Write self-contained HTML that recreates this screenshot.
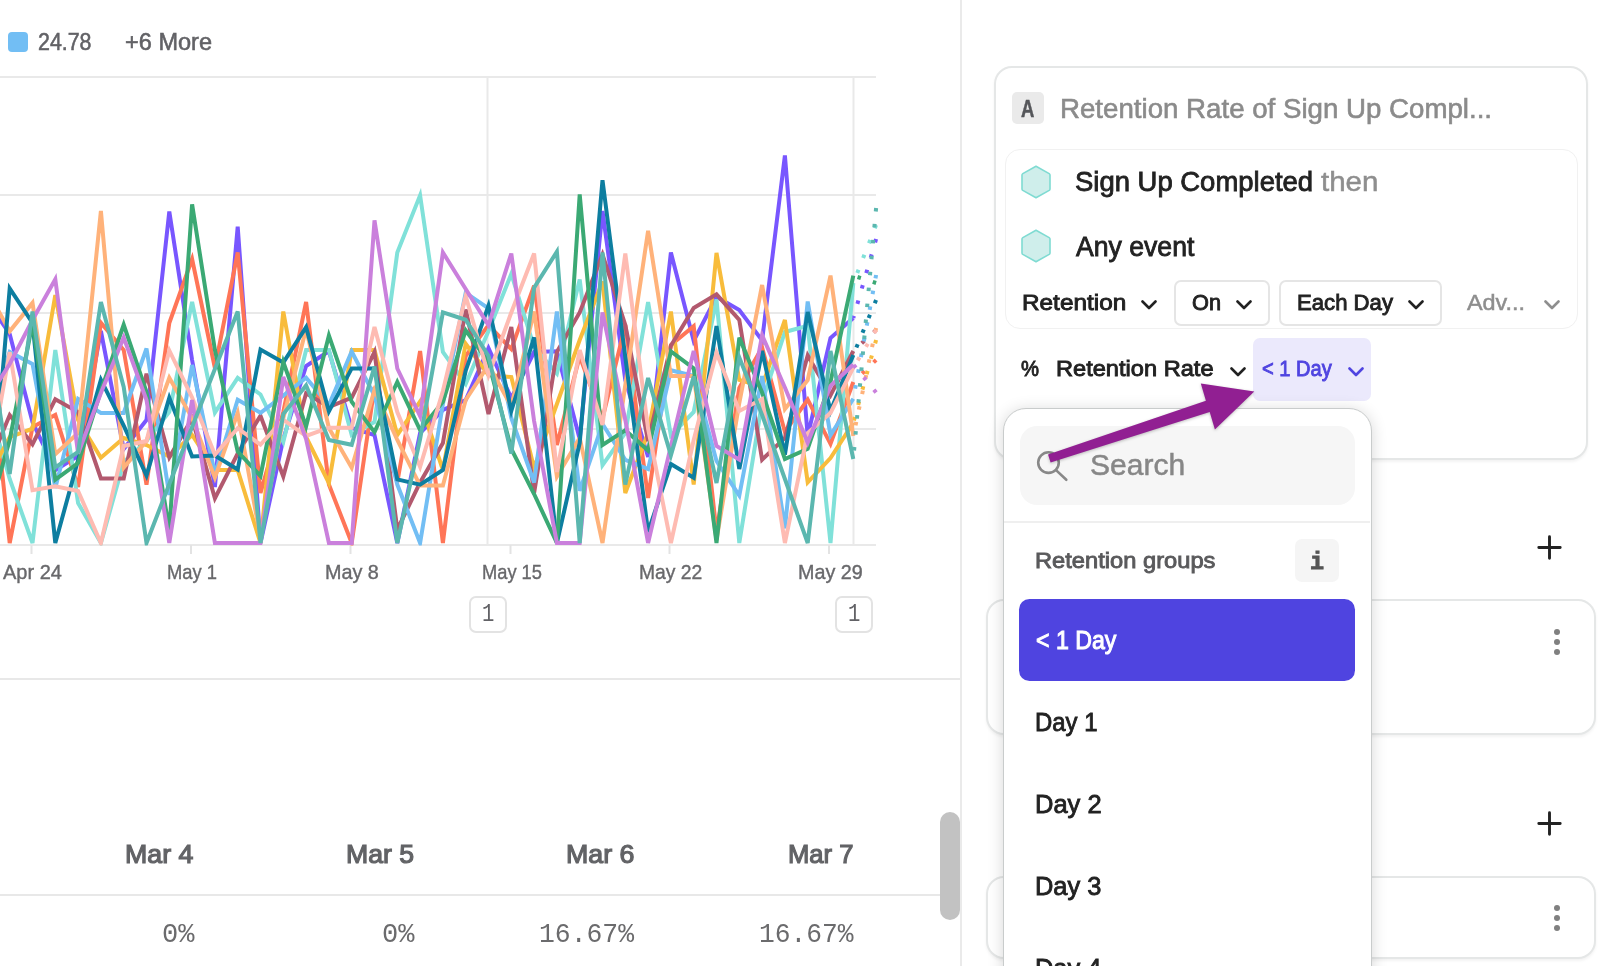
<!DOCTYPE html>
<html lang="en"><head><meta charset="utf-8"><title>Retention</title>
<style>
*{box-sizing:border-box;margin:0;padding:0}
html,body{width:1616px;height:966px;overflow:hidden;background:#fff}
body{position:relative;font-family:"Liberation Sans",Arial,sans-serif;color:#222;-webkit-font-smoothing:antialiased}
.abs{position:absolute;white-space:nowrap}
.t{position:absolute;white-space:nowrap;line-height:1;transform-origin:0 50%;opacity:.999}
.m{-webkit-text-stroke:0.35px currentColor}
.chart{position:absolute;left:0;top:0}
.mono{font-family:"Liberation Mono","DejaVu Sans Mono",monospace}
.chev{position:absolute}
.hex{position:absolute}
.card{position:absolute;background:#fff;border:2px solid #e5e7e7;border-radius:18px;box-shadow:0 2px 3px rgba(0,0,0,.05)}
</style></head><body>

<!-- legend -->
<div class="abs" style="left:8px;top:32px;width:20px;height:20px;border-radius:4px;background:#72bef4"></div>

<svg class="chart" width="960" height="640" viewBox="0 0 960 640">
<rect x="0" y="76" width="876" height="2" fill="#e9e9e9"/>
<rect x="0" y="194" width="876" height="2" fill="#e9e9e9"/>
<rect x="0" y="312" width="876" height="2" fill="#e9e9e9"/>
<rect x="0" y="428" width="876" height="2" fill="#e9e9e9"/>
<rect x="0" y="544" width="876" height="2" fill="#e9e9e9"/>
<rect x="486.5" y="77" width="2" height="468" fill="#e9e9e9"/>
<rect x="852.5" y="77" width="2" height="468" fill="#e9e9e9"/>
<rect x="30.5" y="545" width="2" height="9" fill="#e3e3e3"/>
<rect x="190" y="545" width="2" height="9" fill="#e3e3e3"/>
<rect x="349.5" y="545" width="2" height="9" fill="#e3e3e3"/>
<rect x="509.5" y="545" width="2" height="9" fill="#e3e3e3"/>
<rect x="668.5" y="545" width="2" height="9" fill="#e3e3e3"/>
<rect x="828" y="545" width="2" height="9" fill="#e3e3e3"/>
<g fill="none" stroke-width="4" stroke-linejoin="miter" stroke-miterlimit="4" clip-path="url(#cp)">
<clipPath id="cp"><rect x="0" y="70" width="880" height="475.5"/></clipPath>
<polyline stroke="#7856ff" points="-13.1,300.0 9.7,334.0 32.5,422.0 55.3,470.2 78.1,456.0 100.9,331.0 123.7,449.1 146.5,420.0 169.3,211.5 192.1,360.0 214.9,487.0 237.7,226.6 260.5,543.0 283.3,439.0 306.1,366.0 328.9,351.2 351.7,428.0 374.5,435.0 397.3,543.0 420.1,433.0 442.9,410.0 465.7,400.0 488.5,348.1 511.3,398.2 534.1,352.0 556.9,351.3 579.7,439.0 602.5,211.0 625.3,380.0 648.1,457.0 670.9,252.5 693.7,340.9 716.5,296.8 739.3,310.0 762.1,340.4 784.9,155.5 807.7,436.0 830.5,338.0 853.3,318.0"/>
<line stroke="#7856ff" x1="876.1" y1="239.0" x2="853.3" y2="318.0" stroke-dasharray="3.5 12.5"/>
<polyline stroke="#ff7557" points="-13.1,330.0 9.7,543.0 32.5,427.0 55.3,415.0 78.1,487.0 100.9,322.8 123.7,350.0 146.5,484.6 169.3,323.0 192.1,259.0 214.9,368.0 237.7,252.5 260.5,493.0 283.3,412.0 306.1,302.0 328.9,484.6 351.7,543.0 374.5,387.0 397.3,482.5 420.1,351.0 442.9,543.0 465.7,356.0 488.5,325.1 511.3,349.1 534.1,285.6 556.9,445.0 579.7,356.3 602.5,418.5 625.3,325.0 648.1,498.0 670.9,345.0 693.7,326.2 716.5,532.0 739.3,388.0 762.1,347.5 784.9,431.9 807.7,399.7 830.5,443.8 853.3,382.0"/>
<line stroke="#ff7557" x1="876.1" y1="360.0" x2="853.3" y2="382.0" stroke-dasharray="3.5 12.5"/>
<polyline stroke="#80e1d9" points="-13.1,400.0 9.7,479.0 32.5,543.0 55.3,350.0 78.1,503.0 100.9,543.0 123.7,462.0 146.5,441.0 169.3,412.0 192.1,302.0 214.9,412.5 237.7,377.8 260.5,394.5 283.3,441.9 306.1,350.0 328.9,350.0 351.7,434.9 374.5,422.0 397.3,252.5 420.1,195.3 442.9,352.0 465.7,384.0 488.5,331.0 511.3,273.9 534.1,347.0 556.9,373.6 579.7,279.4 602.5,465.2 625.3,433.0 648.1,302.0 670.9,435.5 693.7,412.0 716.5,299.5 739.3,543.0 762.1,402.0 784.9,332.0 807.7,325.9 830.5,543.0 853.3,283.0"/>
<line stroke="#80e1d9" x1="876.1" y1="225.0" x2="853.3" y2="283.0" stroke-dasharray="3.5 12.5"/>
<polyline stroke="#f8bc3b" points="-13.1,480.0 9.7,437.0 32.5,428.7 55.3,295.0 78.1,420.0 100.9,457.7 123.7,438.1 146.5,445.0 169.3,456.5 192.1,435.0 214.9,470.0 237.7,470.0 260.5,543.0 283.3,311.5 306.1,437.0 328.9,483.0 351.7,350.0 374.5,350.0 397.3,434.9 420.1,401.4 442.9,470.0 465.7,343.7 488.5,375.0 511.3,377.0 534.1,467.9 556.9,404.0 579.7,340.0 602.5,281.5 625.3,493.0 648.1,433.0 670.9,311.5 693.7,484.6 716.5,252.9 739.3,380.0 762.1,386.5 784.9,320.0 807.7,482.3 830.5,458.0 853.3,422.8"/>
<line stroke="#f8bc3b" x1="876.1" y1="340.0" x2="853.3" y2="422.8" stroke-dasharray="3.5 12.5"/>
<polyline stroke="#b2596e" points="-13.1,470.0 9.7,415.1 32.5,444.2 55.3,399.3 78.1,412.0 100.9,478.4 123.7,478.4 146.5,373.7 169.3,457.3 192.1,418.6 214.9,498.3 237.7,453.5 260.5,415.7 283.3,476.5 306.1,393.3 328.9,407.0 351.7,397.6 374.5,352.0 397.3,529.6 420.1,482.5 442.9,443.0 465.7,309.5 488.5,414.0 511.3,327.0 534.1,493.0 556.9,352.0 579.7,312.5 602.5,254.5 625.3,325.0 648.1,441.0 670.9,345.7 693.7,308.0 716.5,294.4 739.3,320.0 762.1,459.7 784.9,438.0 807.7,355.5 830.5,395.4 853.3,351.0"/>
<line stroke="#b2596e" x1="876.1" y1="330.0" x2="853.3" y2="351.0" stroke-dasharray="3.5 12.5"/>
<polyline stroke="#72bef4" points="-13.1,420.0 9.7,351.9 32.5,364.0 55.3,488.0 78.1,398.9 100.9,413.0 123.7,413.0 146.5,348.5 169.3,495.0 192.1,365.0 214.9,474.0 237.7,399.7 260.5,412.8 283.3,395.6 306.1,377.7 328.9,405.1 351.7,351.5 374.5,395.6 397.3,484.6 420.1,543.0 442.9,404.0 465.7,292.8 488.5,308.4 511.3,418.0 534.1,482.5 556.9,311.5 579.7,490.8 602.5,424.0 625.3,459.8 648.1,469.1 670.9,370.3 693.7,376.0 716.5,461.0 739.3,495.6 762.1,376.0 784.9,528.4 807.7,301.5 830.5,435.2 853.3,398.7"/>
<line stroke="#72bef4" x1="876.1" y1="275.0" x2="853.3" y2="398.7" stroke-dasharray="3.5 12.5"/>
<polyline stroke="#ffb27a" points="-13.1,290.0 9.7,331.3 32.5,302.9 55.3,454.3 78.1,433.0 100.9,211.0 123.7,467.6 146.5,441.0 169.3,377.8 192.1,418.0 214.9,477.6 237.7,413.0 260.5,538.0 283.3,418.0 306.1,329.0 328.9,428.0 351.7,467.7 374.5,390.0 397.3,440.0 420.1,485.6 442.9,485.6 465.7,400.0 488.5,365.0 511.3,406.1 534.1,311.5 556.9,476.6 579.7,437.9 602.5,543.0 625.3,385.0 648.1,230.7 670.9,376.0 693.7,376.0 716.5,540.0 739.3,403.0 762.1,285.0 784.9,409.0 807.7,380.0 830.5,275.6 853.3,436.0"/>
<line stroke="#ffb27a" x1="876.1" y1="328.0" x2="853.3" y2="436.0" stroke-dasharray="3.5 12.5"/>
<polyline stroke="#0d7ea0" points="-13.1,560.0 9.7,288.5 32.5,323.0 55.3,543.0 78.1,460.0 100.9,379.7 123.7,425.6 146.5,475.5 169.3,397.6 192.1,456.4 214.9,455.5 237.7,469.5 260.5,349.5 283.3,362.5 306.1,327.2 328.9,411.4 351.7,368.4 374.5,368.4 397.3,479.4 420.1,484.7 442.9,470.0 465.7,370.7 488.5,305.5 511.3,411.0 534.1,337.4 556.9,543.0 579.7,443.0 602.5,180.2 625.3,357.0 648.1,532.0 670.9,464.0 693.7,477.7 716.5,326.0 739.3,469.0 762.1,351.0 784.9,454.6 807.7,312.0 830.5,411.1 853.3,355.0"/>
<line stroke="#0d7ea0" x1="876.1" y1="300.0" x2="853.3" y2="355.0" stroke-dasharray="3.5 12.5"/>
<polyline stroke="#3ba974" points="-13.1,520.0 9.7,440.0 32.5,323.0 55.3,479.6 78.1,463.0 100.9,391.0 123.7,324.8 146.5,392.0 169.3,530.0 192.1,204.4 214.9,350.0 237.7,451.5 260.5,476.0 283.3,362.0 306.1,426.4 328.9,335.5 351.7,401.8 374.5,432.1 397.3,382.0 420.1,430.0 442.9,401.8 465.7,330.4 488.5,362.0 511.3,449.0 534.1,494.0 556.9,543.0 579.7,194.5 602.5,445.0 625.3,430.2 648.1,450.5 670.9,351.4 693.7,368.4 716.5,543.0 739.3,337.6 762.1,392.5 784.9,459.0 807.7,448.7 830.5,382.0 853.3,275.6"/>
<line stroke="#3ba974" x1="876.1" y1="283.0" x2="853.3" y2="275.6" stroke-dasharray="3.5 12.5"/>
<polyline stroke="#febbb2" points="-13.1,480.0 9.7,352.0 32.5,490.3 55.3,486.4 78.1,491.0 100.9,543.0 123.7,446.0 146.5,441.0 169.3,350.5 192.1,397.6 214.9,454.8 237.7,428.2 260.5,444.7 283.3,419.6 306.1,436.0 328.9,427.7 351.7,427.7 374.5,327.0 397.3,412.0 420.1,466.9 442.9,391.0 465.7,296.0 488.5,375.3 511.3,312.5 534.1,253.5 556.9,472.0 579.7,350.0 602.5,425.0 625.3,253.5 648.1,428.7 670.9,543.0 693.7,440.0 716.5,352.8 739.3,411.0 762.1,399.1 784.9,543.0 807.7,433.0 830.5,413.0 853.3,367.6"/>
<line stroke="#febbb2" x1="876.1" y1="330.0" x2="853.3" y2="367.6" stroke-dasharray="3.5 12.5"/>
<polyline stroke="#ca80dc" points="-13.1,400.0 9.7,364.0 32.5,320.0 55.3,279.2 78.1,453.5 100.9,393.0 123.7,337.6 146.5,400.0 169.3,543.0 192.1,400.0 214.9,543.0 237.7,543.0 260.5,543.0 283.3,377.0 306.1,439.0 328.9,543.0 351.7,543.0 374.5,220.4 397.3,368.5 420.1,416.1 442.9,252.5 465.7,289.0 488.5,325.2 511.3,253.5 534.1,421.0 556.9,543.0 579.7,543.0 602.5,312.5 625.3,420.0 648.1,543.0 670.9,446.0 693.7,351.0 716.5,446.0 739.3,459.6 762.1,335.2 784.9,387.5 807.7,442.6 830.5,386.0 853.3,364.5"/>
<line stroke="#ca80dc" x1="876.1" y1="392.5" x2="853.3" y2="364.5" stroke-dasharray="3.5 12.5"/>
<polyline stroke="#5bb7af" points="-13.1,330.0 9.7,474.0 32.5,311.5 55.3,467.3 78.1,452.0 100.9,302.0 123.7,387.0 146.5,543.0 169.3,484.0 192.1,427.0 214.9,369.0 237.7,311.5 260.5,543.0 283.3,414.0 306.1,385.4 328.9,440.0 351.7,444.8 374.5,366.5 397.3,543.0 420.1,439.0 442.9,312.4 465.7,319.8 488.5,356.0 511.3,453.5 534.1,287.7 556.9,251.7 579.7,543.0 602.5,252.5 625.3,484.6 648.1,378.0 670.9,455.4 693.7,376.5 716.5,483.0 739.3,357.6 762.1,415.0 784.9,479.0 807.7,543.0 830.5,351.0 853.3,459.0"/>
<line stroke="#5bb7af" x1="876.1" y1="208.0" x2="853.3" y2="459.0" stroke-dasharray="3.5 12.5"/>
</g></svg>

<!-- axis labels -->

<!-- annotations -->
<div class="abs" style="left:469px;top:596px;width:38px;height:37px;border:2px solid #e3e3e3;border-radius:7px"></div>
<div class="abs" style="left:835px;top:596px;width:38px;height:37px;border:2px solid #e3e3e3;border-radius:7px"></div>

<!-- separators -->
<div class="abs" style="left:0;top:678px;width:961px;height:2px;background:#e8e8e8"></div>
<div class="abs" style="left:0;top:893.5px;width:940px;height:2px;background:#e8e8e8"></div>
<div class="abs" style="left:960px;top:0;width:2.2px;height:966px;background:#eaeaea"></div>
<div class="abs" style="left:940px;top:812.3px;width:20px;height:107.5px;border-radius:10px;background:#c2c2c2"></div>

<!-- table -->

<!-- right panel: background cards -->
<div class="card" style="left:994px;top:65.7px;width:594.3px;height:394px"></div>
<div class="card" style="left:986.2px;top:599.3px;width:610px;height:136px"></div>
<div class="card" style="left:986.2px;top:875.5px;width:610px;height:83.5px"></div>

<!-- plus / kebab icons -->
<svg class="abs" style="left:1537px;top:535px" width="25" height="25" viewBox="0 0 25 25"><path d="M12.5 1.8V23.2M1.8 12.5H23.2" stroke="#222" stroke-width="2.9" stroke-linecap="round" fill="none"/></svg>
<svg class="abs" style="left:1537px;top:811px" width="25" height="25" viewBox="0 0 25 25"><path d="M12.5 1.8V23.2M1.8 12.5H23.2" stroke="#222" stroke-width="2.9" stroke-linecap="round" fill="none"/></svg>
<svg class="abs" style="left:1551px;top:627px" width="12" height="30" viewBox="0 0 12 30"><circle cx="6" cy="5" r="3" fill="#808080"/><circle cx="6" cy="15" r="3" fill="#808080"/><circle cx="6" cy="25" r="3" fill="#808080"/></svg>
<svg class="abs" style="left:1551px;top:903px" width="12" height="30" viewBox="0 0 12 30"><circle cx="6" cy="5" r="3" fill="#808080"/><circle cx="6" cy="15" r="3" fill="#808080"/><circle cx="6" cy="25" r="3" fill="#808080"/></svg>

<!-- card A header -->
<div class="abs" style="left:1012.2px;top:91.8px;width:32px;height:32px;border-radius:5px;background:#eaeaea"></div>

<!-- inner card -->
<div class="abs" style="left:1004.5px;top:148.5px;width:573px;height:180px;border:1.5px solid #f1f1f1;border-radius:15px;background:#fff"></div>
<div style="position:absolute;left:1019px;top:164px"><svg class="hex" width="34" height="36" viewBox="0 0 34 36"><path d="M17 2.2 L30.2 9.6 Q31 10.1 31 11 L31 25 Q31 25.9 30.2 26.4 L17 33.8 L3.8 26.4 Q3 25.9 3 25 L3 11 Q3 10.1 3.8 9.6 Z" fill="#cfeeeb" stroke="#7fdbd2" stroke-width="1.6" stroke-linejoin="round"/></svg></div>
<div style="position:absolute;left:1019px;top:228px"><svg class="hex" width="34" height="36" viewBox="0 0 34 36"><path d="M17 2.2 L30.2 9.6 Q31 10.1 31 11 L31 25 Q31 25.9 30.2 26.4 L17 33.8 L3.8 26.4 Q3 25.9 3 25 L3 11 Q3 10.1 3.8 9.6 Z" fill="#cfeeeb" stroke="#7fdbd2" stroke-width="1.6" stroke-linejoin="round"/></svg></div>

<div style="position:absolute;left:1141px;top:300px;color:#222"><svg class="chev " width="16" height="10" viewBox="0 0 16 10"><path d="M1.5 1.5 L8 8 L14.5 1.5" fill="none" stroke="currentColor" stroke-width="2.6" stroke-linecap="round" stroke-linejoin="round"/></svg></div>
<div class="abs" style="left:1174px;top:280px;width:95.5px;height:46px;border:2px solid #e5e5e5;border-radius:7px"></div>
<div style="position:absolute;left:1236px;top:300px;color:#222"><svg class="chev " width="16" height="10" viewBox="0 0 16 10"><path d="M1.5 1.5 L8 8 L14.5 1.5" fill="none" stroke="currentColor" stroke-width="2.6" stroke-linecap="round" stroke-linejoin="round"/></svg></div>
<div class="abs" style="left:1278.5px;top:280px;width:163px;height:46px;border:2px solid #e5e5e5;border-radius:7px"></div>
<div style="position:absolute;left:1408px;top:300px;color:#222"><svg class="chev " width="16" height="10" viewBox="0 0 16 10"><path d="M1.5 1.5 L8 8 L14.5 1.5" fill="none" stroke="currentColor" stroke-width="2.6" stroke-linecap="round" stroke-linejoin="round"/></svg></div>
<div style="position:absolute;left:1544px;top:300px;color:#8e8e8e"><svg class="chev " width="16" height="10" viewBox="0 0 16 10"><path d="M1.5 1.5 L8 8 L14.5 1.5" fill="none" stroke="currentColor" stroke-width="2.6" stroke-linecap="round" stroke-linejoin="round"/></svg></div>

<!-- measure row -->
<div style="position:absolute;left:1229.5px;top:366.5px;color:#222"><svg class="chev " width="16" height="10" viewBox="0 0 16 10"><path d="M1.5 1.5 L8 8 L14.5 1.5" fill="none" stroke="currentColor" stroke-width="2.6" stroke-linecap="round" stroke-linejoin="round"/></svg></div>
<div class="abs" style="left:1253px;top:337.5px;width:118px;height:63px;border-radius:7px;background:#ebe9fc"></div>
<div style="position:absolute;left:1347.5px;top:366.5px;color:#4f44e0"><svg class="chev " width="16" height="10" viewBox="0 0 16 10"><path d="M1.5 1.5 L8 8 L14.5 1.5" fill="none" stroke="currentColor" stroke-width="2.6" stroke-linecap="round" stroke-linejoin="round"/></svg></div>

<!-- dropdown -->
<div class="abs" style="left:1002.5px;top:408px;width:369.5px;height:600px;background:#fff;border:1px solid #c9cccc;border-radius:23px;box-shadow:0 2px 16px rgba(0,0,0,.16)"></div>
<div class="abs" style="left:1019.5px;top:425.5px;width:335.5px;height:79px;border-radius:17px;background:#f6f6f6"></div>
<svg class="abs" style="left:1034px;top:450px" width="40" height="36" viewBox="0 0 40 36"><circle cx="14.5" cy="12.6" r="10.3" fill="none" stroke="#888" stroke-width="2.6"/><path d="M22.3 20.4 L32.3 29.8" stroke="#888" stroke-width="2.6" stroke-linecap="round"/></svg>
<div class="abs" style="left:1004px;top:521px;width:366px;height:1.5px;background:#efefef"></div>
<div class="abs" style="left:1295px;top:539px;width:44px;height:43px;border-radius:7px;background:#f5f5f5"></div>
<div class="abs" style="left:1019.2px;top:599px;width:335.6px;height:81.6px;border-radius:10.5px;background:#4f44e0"></div>

<div class="t" id="t_leg1" style="left:38.00px;top:41.83px;font-size:23px;color:#626266;-webkit-text-stroke:0.55px #626266;transform:translateY(-50%) scaleX(0.9298);">24.78</div>
<div class="t" id="t_leg2" style="left:125.00px;top:41.83px;font-size:23px;color:#626266;-webkit-text-stroke:0.55px #626266;transform:translateY(-50%) scaleX(1.0235);">+6 More</div>
<div class="t" id="ax0" style="left:3.00px;top:570.51px;font-size:21px;color:#68686b;-webkit-text-stroke:0.4px #68686b;transform:translateY(-50%) scaleX(0.9517);">Apr 24</div>
<div class="t" id="ax1" style="left:167.00px;top:570.51px;font-size:21px;color:#68686b;-webkit-text-stroke:0.4px #68686b;transform:translateY(-50%) scaleX(0.8750);">May 1</div>
<div class="t" id="ax2" style="left:325.00px;top:570.51px;font-size:21px;color:#68686b;-webkit-text-stroke:0.4px #68686b;transform:translateY(-50%) scaleX(0.9420);">May 8</div>
<div class="t" id="ax3" style="left:481.50px;top:570.51px;font-size:21px;color:#68686b;-webkit-text-stroke:0.4px #68686b;transform:translateY(-50%) scaleX(0.8707);">May 15</div>
<div class="t" id="ax4" style="left:639.00px;top:570.51px;font-size:21px;color:#68686b;-webkit-text-stroke:0.4px #68686b;transform:translateY(-50%) scaleX(0.9196);">May 22</div>
<div class="t" id="ax5" style="left:797.50px;top:570.51px;font-size:21px;color:#68686b;-webkit-text-stroke:0.4px #68686b;transform:translateY(-50%) scaleX(0.9403);">May 29</div>
<div class="t" id="an0" style="left:481.50px;top:613.96px;font-size:26px;color:#626266;transform:translateY(-50%) scaleX(0.7918);font-family:'Liberation Mono',monospace">1</div>
<div class="t" id="an1" style="left:847.50px;top:613.96px;font-size:26px;color:#626266;transform:translateY(-50%) scaleX(0.7918);font-family:'Liberation Mono',monospace">1</div>
<div class="t" id="th0" style="left:125.00px;top:853.76px;font-size:26.5px;color:#626366;-webkit-text-stroke:1.2px #626366;transform:translateY(-50%) scaleX(1.0090);">Mar 4</div>
<div class="t" id="th1" style="left:346.00px;top:853.76px;font-size:26.5px;color:#626366;-webkit-text-stroke:1.2px #626366;transform:translateY(-50%) scaleX(1.0061);">Mar 5</div>
<div class="t" id="th2" style="left:566.00px;top:853.76px;font-size:26.5px;color:#626366;-webkit-text-stroke:1.2px #626366;transform:translateY(-50%) scaleX(1.0093);">Mar 6</div>
<div class="t" id="th3" style="left:787.50px;top:853.76px;font-size:26.5px;color:#626366;-webkit-text-stroke:1.2px #626366;transform:translateY(-50%) scaleX(0.9668);">Mar 7</div>
<div class="t" id="td0" style="left:161.50px;top:934.67px;font-size:27px;color:#6b6b6d;transform:translateY(-50%) scaleX(1.0005);font-family:'Liberation Mono',monospace">0%</div>
<div class="t" id="td1" style="left:381.50px;top:934.67px;font-size:27px;color:#6b6b6d;transform:translateY(-50%) scaleX(1.0005);font-family:'Liberation Mono',monospace">0%</div>
<div class="t" id="td2" style="left:538.50px;top:934.67px;font-size:27px;color:#6b6b6d;transform:translateY(-50%) scaleX(0.9771);font-family:'Liberation Mono',monospace">16.67%</div>
<div class="t" id="td3" style="left:758.50px;top:934.67px;font-size:27px;color:#6b6b6d;transform:translateY(-50%) scaleX(0.9730);font-family:'Liberation Mono',monospace">16.67%</div>
<div class="t" id="t_A" style="left:1021.00px;top:108.84px;font-size:24px;color:#55565a;-webkit-text-stroke:0.5px #55565a;transform:translateY(-50%) scaleX(0.7681);font-weight:700">A</div>
<div class="t" id="t_title" style="left:1060.00px;top:108.57px;font-size:27px;color:#8b8b8b;-webkit-text-stroke:0.6px #8b8b8b;transform:translateY(-50%) scaleX(1.0244);">Retention Rate of Sign Up Compl...</div>
<div class="t" id="t_ev1" style="left:1075.00px;top:182.28px;font-size:27.5px;color:#222;-webkit-text-stroke:0.85px #222;transform:translateY(-50%) scaleX(0.9983);">Sign Up Completed</div>
<div class="t" id="t_then" style="left:1321.00px;top:182.28px;font-size:27.5px;color:#8e8e8e;-webkit-text-stroke:0.5px #8e8e8e;transform:translateY(-50%) scaleX(1.0732);">then</div>
<div class="t" id="t_ev2" style="left:1076.00px;top:247.08px;font-size:27.5px;color:#222;-webkit-text-stroke:0.85px #222;transform:translateY(-50%) scaleX(0.9678);">Any event</div>
<div class="t" id="t_ret" style="left:1022.00px;top:303.03px;font-size:22.5px;color:#222;-webkit-text-stroke:0.9px #222;transform:translateY(-50%) scaleX(1.0821);">Retention</div>
<div class="t" id="t_on" style="left:1192.00px;top:303.03px;font-size:22.5px;color:#222;-webkit-text-stroke:0.9px #222;transform:translateY(-50%) scaleX(0.9661);">On</div>
<div class="t" id="t_each" style="left:1296.50px;top:303.03px;font-size:22.5px;color:#222;-webkit-text-stroke:0.9px #222;transform:translateY(-50%) scaleX(0.9838);">Each Day</div>
<div class="t" id="t_adv" style="left:1467.00px;top:303.03px;font-size:22.5px;color:#8e8e8e;-webkit-text-stroke:0.5px #8e8e8e;transform:translateY(-50%) scaleX(1.0401);">Adv...</div>
<div class="t" id="t_pct" style="left:1021.00px;top:369.23px;font-size:22.5px;color:#222;-webkit-text-stroke:0.9px #222;transform:translateY(-50%) scaleX(0.9000);">%</div>
<div class="t" id="t_rr" style="left:1056.00px;top:369.23px;font-size:22.5px;color:#222;-webkit-text-stroke:0.9px #222;transform:translateY(-50%) scaleX(1.0494);">Retention Rate</div>
<div class="t" id="t_l1d" style="left:1262.00px;top:369.23px;font-size:22.5px;color:#4f44e0;-webkit-text-stroke:0.9px #4f44e0;transform:translateY(-50%) scaleX(0.8912);">&lt; 1 Day</div>
<div class="t" id="t_search" style="left:1089.50px;top:465.30px;font-size:29.5px;color:#878787;-webkit-text-stroke:0.5px #878787;transform:translateY(-50%) scaleX(1.0177);">Search</div>
<div class="t" id="t_rg" style="left:1034.50px;top:560.83px;font-size:22.5px;color:#5a5a5c;-webkit-text-stroke:0.9px #5a5a5c;transform:translateY(-50%) scaleX(1.0527);">Retention groups</div>
<div class="t" id="t_i" style="left:1310.00px;top:562.74px;font-size:23.5px;color:#555;-webkit-text-stroke:0.8px #555;transform:translateY(-50%) scaleX(1.0000);font-family:'Liberation Mono',monospace;font-weight:700">i</div>
<div class="t" id="t_sel" style="left:1035.50px;top:641.25px;font-size:25.5px;color:#fff;-webkit-text-stroke:1.0px #fff;transform:translateY(-50%) scaleX(0.9079);">&lt; 1 Day</div>
<div class="t" id="t_d1" style="left:1035.00px;top:722.86px;font-size:25.5px;color:#222;-webkit-text-stroke:0.85px #222;transform:translateY(-50%) scaleX(0.9385);">Day 1</div>
<div class="t" id="t_d2" style="left:1035.00px;top:804.86px;font-size:25.5px;color:#222;-webkit-text-stroke:0.85px #222;transform:translateY(-50%) scaleX(1.0000);">Day 2</div>
<div class="t" id="t_d3" style="left:1035.00px;top:886.86px;font-size:25.5px;color:#222;-webkit-text-stroke:0.85px #222;transform:translateY(-50%) scaleX(0.9970);">Day 3</div>
<div class="t" id="t_d4" style="left:1035.00px;top:968.86px;font-size:25.5px;color:#222;-webkit-text-stroke:0.85px #222;transform:translateY(-50%) scaleX(0.9970);">Day 4</div>

<!-- arrow -->
<svg class="abs" id="arrow" style="left:1030px;top:370px;filter:drop-shadow(0 1px 1.5px rgba(0,0,0,.25))" width="240" height="100" viewBox="1030 370 240 100">
<path d="M1048.0 454.4 L1205.9 400.7 L1200.8 383.4 L1254.3 391.5 L1214.9 429.4 L1209.7 412.1 L1050.6 462.4 Z" fill="#911f92"/>
</svg>

</body></html>
